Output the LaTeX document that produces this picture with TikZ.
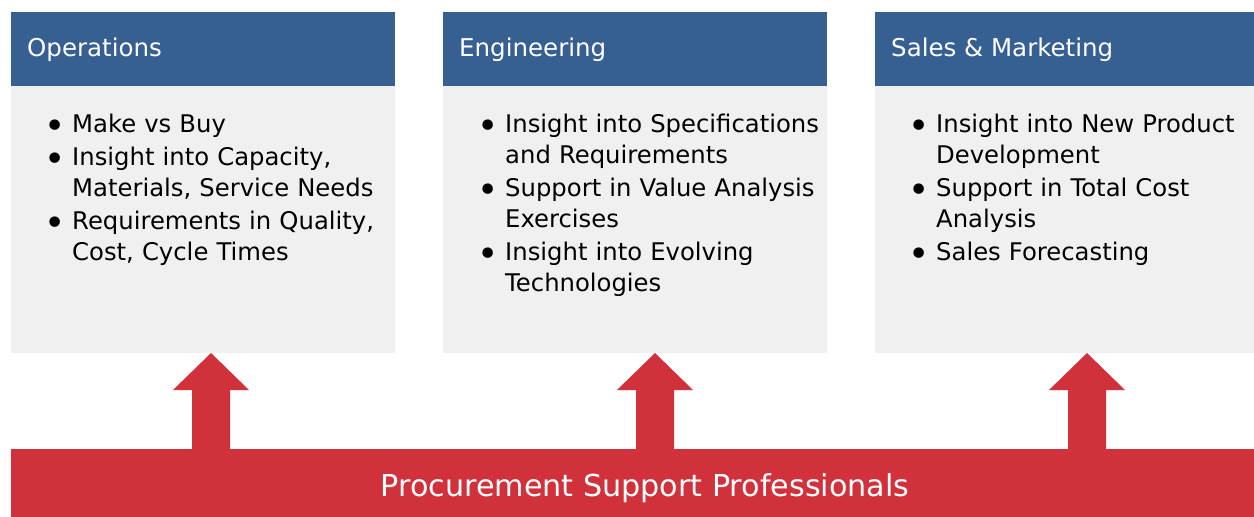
\documentclass[tikz,border=0pt]{standalone}
\usepackage{fontspec}
\setmainfont{DejaVu Sans}
\definecolor{hdrblue}{RGB}{55,96,146}
\definecolor{bodygray}{RGB}{240,240,240}
\definecolor{barred}{RGB}{209,49,58}
\newcommand{\bulletglyph}{\raisebox{-6pt}[0pt][0pt]{\fontsize{36}{36}\selectfont •}}
\newcommand{\bitem}[1]{\hangindent=28pt\hangafter=1\noindent\makebox[28pt][l]{\bulletglyph}\rule{0pt}{20pt}#1\par}
\begin{document}
\begin{tikzpicture}[x=1pt,y=-1pt,
  hdr/.style={fill=hdrblue, anchor=north west, inner sep=0, minimum height=74pt},
  bodybox/.style={fill=bodygray, anchor=north west, inner sep=0, minimum height=267pt},
  hdrtext/.style={anchor=base west, inner sep=0, text=white, font=\fontsize{24.5}{29}\selectfont},
  listtext/.style={anchor=north west, inner sep=0, text width=370pt, align=left,
     font=\fontsize{24.3}{31}\selectfont\setlength{\parskip}{2pt}},
  bartext/.style={anchor=base, inner sep=0, text=white, font=\fontsize{30.2}{36}\selectfont},
  uparrow/.pic={\fill[barred] (-19,2) -- (-19,-60) -- (-38,-60) -- (0,-97) -- (38,-60) -- (19,-60) -- (19,2) -- cycle;}
]
\useasboundingbox (0,0) rectangle (1254,517);
% boxes
\node[hdr, minimum width=384pt] (h1) at (11,12) {};
\node[hdr, minimum width=384pt] (h2) at (443,12) {};
\node[hdr, minimum width=379pt] (h3) at (875,12) {};
\node[bodybox, minimum width=384pt] (b1) at (11,86) {};
\node[bodybox, minimum width=384pt] (b2) at (443,86) {};
\node[bodybox, minimum width=379pt] (b3) at (875,86) {};
% headers
\node[hdrtext] (t1) at (27,56) {Operations};
\node[hdrtext] (t2) at (459,56) {Engineering};
\node[hdrtext] (t3) at (891,56) {Sales \& Marketing};
% lists
\node[listtext] (l1) at (44,112) {%
\bitem{Make vs Buy}
\bitem{Insight into Capacity,\newline Materials, Service Needs}
\bitem{Requirements in Quality,\newline Cost, Cycle Times}};
\node[listtext] (l2) at (477,112) {%
\bitem{Insight into Specifications\newline and Requirements}
\bitem{Support in Value Analysis\newline Exercises}
\bitem{Insight into Evolving\newline Technologies}};
\node[listtext] (l3) at (908,112) {%
\bitem{Insight into New Product\newline Development}
\bitem{Support in Total Cost\newline Analysis}
\bitem{Sales Forecasting}};
% bar
\node[fill=barred, anchor=north west, inner sep=0, minimum width=1243pt, minimum height=68pt] (bar) at (11,449) {};
\node[bartext] (bt) at (645,496) {Procurement Support Professionals};
% arrows
\coordinate (a1) at (211,450);
\coordinate (a2) at (655,450);
\coordinate (a3) at (1087,450);
\pic at (a1) {uparrow};
\pic at (a2) {uparrow};
\pic at (a3) {uparrow};
\end{tikzpicture}
\end{document}
